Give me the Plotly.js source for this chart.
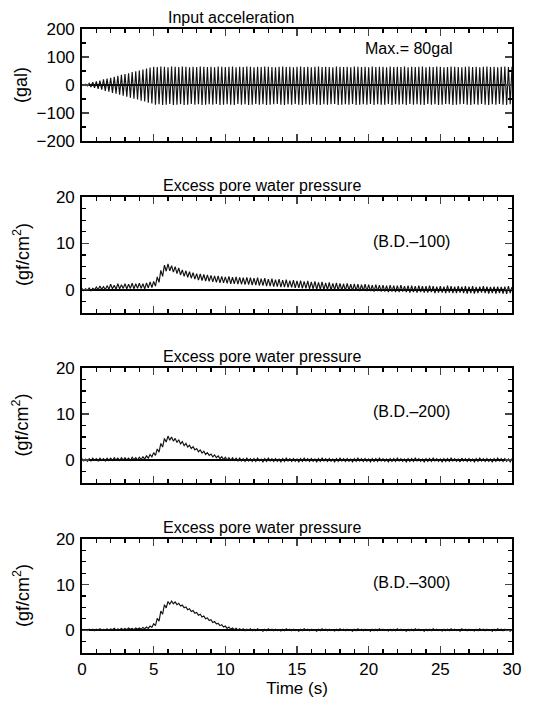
<!DOCTYPE html>
<html><head><meta charset="utf-8">
<script src="https://cdn.plot.ly/plotly-3.0.1.min.js"></script>
<style>html,body{margin:0;padding:0;background:#fff}#c{width:545px;height:701px}</style>
</head><body><div id="c"></div>
<script>
// one value per loading cycle (4 Hz, every 0.25 s from 0 to 30 s): upper and lower peaks
const CYCLE_STEP = 0.25;
const accHi = [
0,3,6,10, 13,16,20,23, 26,29,33,36, 39,42,46,49, 52,55,59,62,
65,64,66,65, 63,66,65,64, 66,65,63,65, 64,66,65,64, 65,63,66,65,
64,65,66,63, 65,64,66,65, 63,65,64,66, 65,64,63,65, 66,64,65,63,
65,66,64,65, 63,65,66,64, 65,64,63,66, 65,64,65,63, 66,65,64,65,
63,66,64,65, 65,63,66,64, 65,64,66,63, 65,64,65,66, 63,65,64,66,
65,63,64,66, 65,64,63,65, 66,64,65,63, 65,66,64,65, 63,65,66,64,
65];
const accLo = [
0,-3,-7,-10, -14,-17,-21,-24, -28,-31,-35,-38, -42,-45,-49,-52, -56,-59,-63,-66,
-70,-69,-71,-70, -68,-71,-70,-69, -71,-70,-68,-70, -69,-71,-70,-69, -70,-68,-71,-70,
-69,-70,-71,-68, -70,-69,-71,-70, -68,-70,-69,-71, -70,-69,-68,-70, -71,-69,-70,-68,
-70,-71,-69,-70, -68,-70,-71,-69, -70,-69,-68,-71, -70,-69,-70,-68, -71,-70,-69,-70,
-68,-71,-69,-70, -70,-68,-71,-69, -70,-69,-71,-68, -70,-69,-70,-71, -68,-70,-69,-71,
-70,-68,-69,-71, -70,-69,-68,-70, -71,-69,-70,-68, -70,-71,-69,-70, -68,-70,-71,-69,
-70];
const p100Hi = [
0.3,0.2,0.4,0.3, 0.6,0.8,0.7,0.9, 1.2,1.0,1.3,1.1, 1.3,1.2,1.4,1.3, 1.4,1.3,1.5,1.7,
1.8,2.8,4.2,5.3, 5.6,5.2,5.0,4.7, 4.3,4.1,3.9,3.7, 3.5,3.4,3.3,3.2, 3.1,3.0,3.0,2.9,
2.8,2.9,2.7,2.8, 2.7,2.6,2.7,2.6, 2.5,2.6,2.4,2.5, 2.3,2.4,2.2,2.3, 2.1,2.2,2.0,2.1,
1.9,2.0,1.8,1.9, 1.7,1.8,1.6,1.7, 1.5,1.6,1.4,1.5, 1.4,1.3,1.4,1.2, 1.3,1.2,1.1,1.2,
1.1,1.0,1.1,1.0, 1.0,0.9,1.0,0.9, 0.9,1.0,0.8,0.9, 0.9,0.8,0.9,0.8, 0.8,0.9,0.8,0.7,
0.8,0.7,0.9,0.8, 0.7,0.8,0.7,0.8, 0.7,0.8,0.6,0.7, 0.8,0.7,0.6,0.7, 0.7,0.6,0.7,0.8,
0.6];
const p100Lo = [
-0.2,-0.1,-0.2,0.0, 0.0,0.1,0.0,0.1, 0.2,0.1,0.2,0.3, 0.2,0.3,0.2,0.3, 0.3,0.2,0.4,0.5,
0.8,1.6,2.9,4.0, 4.1,3.8,3.5,3.2, 2.9,2.7,2.5,2.3, 2.1,2.0,1.9,1.8, 1.7,1.6,1.5,1.5,
1.4,1.3,1.3,1.2, 1.2,1.1,1.1,1.0, 1.0,0.9,0.9,0.8, 0.8,0.7,0.7,0.6, 0.6,0.5,0.5,0.4,
0.4,0.3,0.3,0.2, 0.2,0.1,0.1,0.0, 0.0,-0.1,0.0,-0.1, -0.1,-0.2,-0.1,-0.2, -0.2,-0.3,-0.2,-0.3,
-0.3,-0.4,-0.3,-0.4, -0.4,-0.5,-0.4,-0.5, -0.5,-0.4,-0.5,-0.6, -0.5,-0.6,-0.5,-0.6, -0.6,-0.5,-0.7,-0.6,
-0.6,-0.7,-0.6,-0.7, -0.7,-0.6,-0.7,-0.8, -0.7,-0.8,-0.7,-0.6, -0.7,-0.8,-0.7,-0.8, -0.7,-0.8,-0.9,-0.7,
-0.8];
const p200Hi = [
0.3,0.2,0.3,0.4, 0.3,0.4,0.3,0.4, 0.4,0.5,0.4,0.5, 0.5,0.4,0.6,0.5, 0.6,0.7,0.9,1.2,
1.6,2.4,3.6,4.7, 5.2,5.0,4.7,4.4, 4.0,3.6,3.2,2.9, 2.5,2.2,1.9,1.6, 1.3,1.1,0.9,0.7,
0.6,0.5,0.5,0.4, 0.4,0.3,0.4,0.3, 0.3,0.4,0.2,0.3, 0.4,0.3,0.3,0.2, 0.3,0.4,0.3,0.3,
0.2,0.3,0.4,0.3, 0.3,0.2,0.3,0.4, 0.3,0.3,0.2,0.3, 0.4,0.3,0.3,0.2, 0.3,0.4,0.3,0.3,
0.2,0.3,0.3,0.4, 0.3,0.2,0.3,0.3, 0.4,0.3,0.2,0.3, 0.3,0.4,0.3,0.2, 0.3,0.3,0.4,0.3,
0.2,0.3,0.3,0.4, 0.3,0.2,0.4,0.3, 0.3,0.2,0.3,0.4, 0.3,0.3,0.2,0.3, 0.4,0.3,0.3,0.2,
0.3];
const p200Lo = [
-0.2,-0.3,-0.2,-0.1, -0.2,-0.1,-0.2,-0.1, -0.1,0.0,-0.1,0.0, 0.0,-0.1,0.1,0.0, 0.1,0.2,0.4,0.7,
1.0,1.7,2.8,3.9, 4.3,4.1,3.8,3.5, 3.1,2.8,2.5,2.2, 1.8,1.5,1.2,1.0, 0.7,0.5,0.3,0.1,
0.0,-0.1,-0.1,-0.2, -0.2,-0.3,-0.2,-0.3, -0.3,-0.2,-0.4,-0.3, -0.2,-0.3,-0.3,-0.4, -0.3,-0.2,-0.3,-0.3,
-0.4,-0.3,-0.2,-0.3, -0.3,-0.4,-0.3,-0.2, -0.3,-0.3,-0.4,-0.3, -0.2,-0.3,-0.3,-0.4, -0.3,-0.2,-0.3,-0.3,
-0.4,-0.3,-0.3,-0.2, -0.3,-0.4,-0.3,-0.3, -0.2,-0.3,-0.4,-0.3, -0.3,-0.2,-0.3,-0.4, -0.3,-0.3,-0.2,-0.3,
-0.4,-0.3,-0.3,-0.2, -0.3,-0.4,-0.2,-0.3, -0.3,-0.4,-0.3,-0.2, -0.3,-0.3,-0.4,-0.3, -0.2,-0.3,-0.3,-0.4,
-0.3];
const p300Hi = [
0.2,0.1,0.2,0.2, 0.2,0.3,0.2,0.3, 0.3,0.4,0.3,0.4, 0.4,0.5,0.4,0.5, 0.5,0.6,0.7,0.9,
1.4,2.6,4.2,5.6, 6.3,6.4,6.2,5.9, 5.5,5.1,4.7,4.3, 3.9,3.5,3.1,2.7, 2.3,1.9,1.5,1.2,
0.9,0.7,0.5,0.4, 0.3,0.3,0.2,0.3, 0.2,0.3,0.1,0.2, 0.3,0.2,0.2,0.1, 0.2,0.3,0.2,0.2,
0.1,0.2,0.3,0.2, 0.2,0.1,0.2,0.3, 0.2,0.2,0.1,0.2, 0.3,0.2,0.2,0.1, 0.2,0.3,0.2,0.2,
0.1,0.2,0.2,0.3, 0.2,0.1,0.2,0.2, 0.3,0.2,0.1,0.2, 0.2,0.3,0.2,0.1, 0.2,0.2,0.3,0.2,
0.1,0.2,0.2,0.3, 0.2,0.1,0.3,0.2, 0.2,0.1,0.2,0.3, 0.2,0.2,0.1,0.2, 0.3,0.2,0.2,0.1,
0.2];
const p300Lo = [
0.0,-0.1,0.0,-0.1, 0.0,0.0,0.1,0.0, 0.1,0.0,0.1,0.1, 0.1,0.2,0.1,0.2, 0.2,0.3,0.4,0.6,
1.0,2.0,3.5,4.9, 5.7,5.8,5.6,5.3, 4.9,4.5,4.1,3.7, 3.3,2.9,2.5,2.1, 1.7,1.4,1.0,0.7,
0.4,0.2,0.1,0.0, 0.0,-0.1,0.0,-0.1, -0.1,0.0,-0.2,-0.1, 0.0,-0.1,-0.1,-0.2, -0.1,0.0,-0.1,-0.1,
-0.2,-0.1,0.0,-0.1, -0.1,-0.2,-0.1,0.0, -0.1,-0.1,-0.2,-0.1, 0.0,-0.1,-0.1,-0.2, -0.1,0.0,-0.1,-0.1,
-0.2,-0.1,-0.1,0.0, -0.1,-0.2,-0.1,-0.1, 0.0,-0.1,-0.2,-0.1, -0.1,0.0,-0.1,-0.2, -0.1,-0.1,0.0,-0.1,
-0.2,-0.1,-0.1,0.0, -0.1,-0.2,0.0,-0.1, -0.1,-0.2,-0.1,0.0, -0.1,-0.1,-0.2,-0.1, 0.0,-0.1,-0.1,-0.2,
-0.1];

const panelTitles = ["Input acceleration","Excess pore water pressure","Excess pore water pressure","Excess pore water pressure"];
const panelNotes = ["Max.= 80gal","(B.D.\u2013100)","(B.D.\u2013200)","(B.D.\u2013300)"];
const yUnits = ["(gal)","(gf/cm<sup>2</sup>)","(gf/cm<sup>2</sup>)","(gf/cm<sup>2</sup>)"];
const xTickVals = [0,5,10,15,20,25,30];
const accTicks = [-200,-100,0,100,200];
const accTickText = ["\u2212200","\u2212100","0","100","200"];
const ppTicks = [0,10,20];

// ---- layout geometry (pixels) ----
const W=545,H=701, ML=82, MR=33, MT=29, MB=48;
const PW=W-ML-MR, PH=H-MT-MB;
const panelsPx=[[29,141],[197,313],[368,483],[539,653]];
const dom = panelsPx.map(([t,b])=>[(H-MB-b)/PH,(H-MB-t)/PH]);
const px2x = p=>(p-ML)/PW, px2y = p=>(H-MB-p)/PH;

function zig(hi,lo){
  const x=[],y=[];
  for(let i=0;i<hi.length;i++){
    x.push(i*CYCLE_STEP); y.push(hi[i]);
    if(i<hi.length-1){ x.push(i*CYCLE_STEP+CYCLE_STEP/2); y.push(lo[i]); }
  }
  return {x,y};
}
const series=[[accHi,accLo],[p100Hi,p100Lo],[p200Hi,p200Lo],[p300Hi,p300Lo]];
const axNames=['','2','3','4'];
const traces=series.map((s,k)=>{const z=zig(s[0],s[1]);return {x:z.x,y:z.y,type:'scatter',mode:'lines',
  line:{color:'#111',width:1.15},xaxis:'x'+axNames[k],yaxis:'y'+axNames[k],hoverinfo:'skip',showlegend:false};});

const font={family:'"Liberation Sans", Arial, sans-serif',color:'#000'};
const layout={width:W,height:H,margin:{l:ML,r:MR,t:MT,b:MB},paper_bgcolor:'#fff',plot_bgcolor:'#fff',
  font:Object.assign({size:16},font),showlegend:false,annotations:[]};
for(let k=0;k<4;k++){
  const xa={domain:[0,1],range:[0,30],anchor:'y'+axNames[k],tickvals:xTickVals,ticks:'inside',ticklen:7,tickwidth:1.3,
    mirror:'allticks',showline:true,linewidth:1.8,linecolor:'#000',showgrid:false,zeroline:false,
    showticklabels:k===3,tickfont:Object.assign({size:17},font),
    minor:{dtick:1,ticks:'inside',ticklen:4,tickwidth:1.2,tickcolor:'#000',showgrid:false}};
  if(k===3) xa.title={text:'Time (s)',font:Object.assign({size:17},font),standoff:2};
  const ya={domain:dom[k],anchor:'x'+axNames[k],ticks:'inside',ticklen:7,tickwidth:1.3,mirror:'allticks',
    showline:true,linewidth:1.8,linecolor:'#000',showgrid:false,zeroline:true,zerolinecolor:'#000',zerolinewidth:2.2,
    tickfont:Object.assign({size:17},font),ticklabelstandoff:2};
  if(k===0){Object.assign(ya,{range:[-200,200],tickvals:accTicks,ticktext:accTickText,
    minor:{tickvals:[-150,-50,50,150],ticks:'inside',ticklen:4,tickwidth:1.2,tickcolor:'#000',showgrid:false}});}
  else{Object.assign(ya,{range:[-5,20],tickvals:ppTicks,
    minor:{tickvals:[-2.5,2.5,5,7.5,12.5,15,17.5],ticks:'inside',ticklen:4,tickwidth:1.2,tickcolor:'#000',showgrid:false}});}
  layout['xaxis'+axNames[k]]=xa; layout['yaxis'+axNames[k]]=ya;
  const [t,b]=panelsPx[k];
  layout.annotations.push({text:panelTitles[k],xref:'paper',yref:'paper',x:px2x(k===0?231:262),y:px2y(t-12),
    xanchor:'center',yanchor:'middle',showarrow:false,font:Object.assign({size:16},font)});
  layout.annotations.push({text:yUnits[k],xref:'paper',yref:'paper',x:px2x(21),y:px2y((t+b)/2),textangle:-90,
    xanchor:'center',yanchor:'middle',showarrow:false,font:Object.assign({size:18},font)});
  layout.annotations.push({text:panelNotes[k],xref:'x'+axNames[k],yref:'y'+axNames[k],x:k===0?22.8:23,y:k===0?130:10.5,
    xanchor:'center',yanchor:'middle',showarrow:false,font:Object.assign({size:16},font)});
}
Plotly.newPlot('c',traces,layout,{staticPlot:true,displayModeBar:false});
</script></body></html>
